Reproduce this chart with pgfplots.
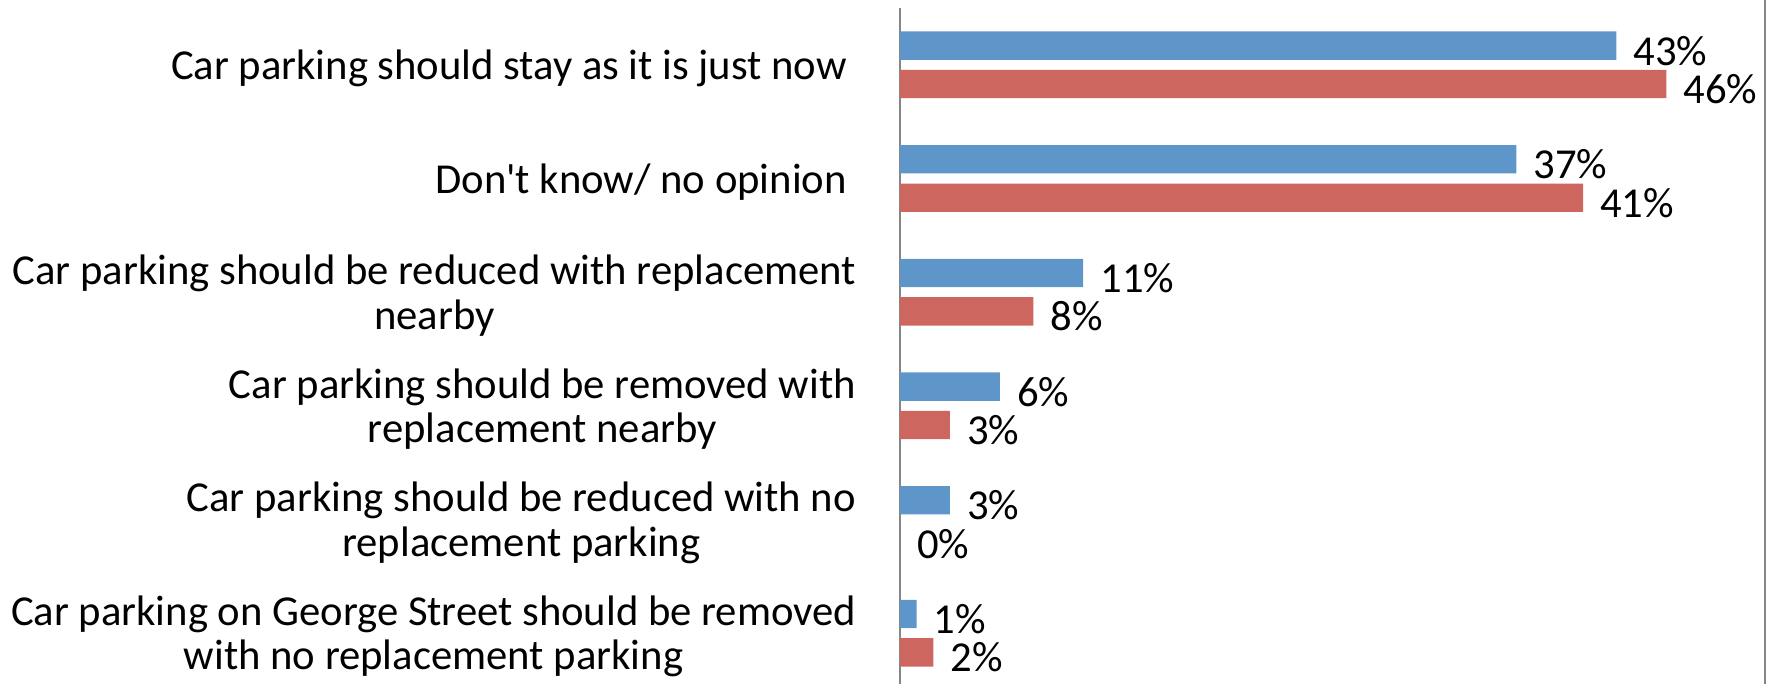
\documentclass[border=0pt]{standalone}
\usepackage{fontspec}
\setmainfont{Carlito}[Ligatures=TeXOff]
\usepackage{pgfplots}
\pgfplotsset{compat=1.18}
\definecolor{barblue}{HTML}{5F96C9}
\definecolor{barred}{HTML}{CE6660}
\definecolor{axisgray}{HTML}{868686}
\begin{document}
\begin{tikzpicture}[font=\fontsize{12.8}{13.3}\selectfont]
\begin{axis}[
  scale only axis, width=249.9pt, height=204.6pt,
  xbar, bar width=8.5pt,
  xmin=0, xmax=50, ymin=-0.5, ymax=5.5,
  axis x line=none, axis y line*=left,
  y axis line style={draw=axisgray, line width=0.6pt, -},
  ytick={0,...,5},
  yticklabels={
    {Car parking on George Street should be removed\\with no replacement parking},
    {Car parking should be reduced with no\\replacement parking},
    {Car parking should be removed with\\replacement nearby},
    {Car parking should be reduced with replacement\\nearby},
    {Don't know/ no opinion\hspace*{2.7pt}},
    {Car parking should stay as it is just now\hspace*{2.7pt}}},
  major tick length=0pt,
  yticklabel style={align=center, inner sep=0pt, xshift=-13pt, yshift=-1pt, text=black},
  nodes near coords={\pgfmathprintnumber[assume math mode=true]{\pgfplotspointmeta}\%},
  nodes near coords style={anchor=west, inner sep=0pt, xshift=5pt, yshift=-1.5pt, text=black},
  clip=false,
]
\addplot[fill=barblue, draw=none, bar shift=5.76pt] coordinates {
  (1,0) (3,1) (6,2) (11,3) (37,4) (43,5)};
\addplot[fill=barred, draw=none, bar shift=-5.76pt] coordinates {
  (2,0) (0,1) (3,2) (8,3) (41,4) (46,5)};
\coordinate (bl) at (rel axis cs:0,0);
\end{axis}
\draw[axisgray, line width=0.6pt] ([xshift=259.5pt,yshift=1.8pt]bl) -- ([xshift=259.5pt,yshift=207pt]bl);
\pgfresetboundingbox
\path[use as bounding box] ([xshift=-270pt,yshift=1.8pt]bl) rectangle ([xshift=261pt,yshift=207pt]bl);
\end{tikzpicture}
\end{document}
